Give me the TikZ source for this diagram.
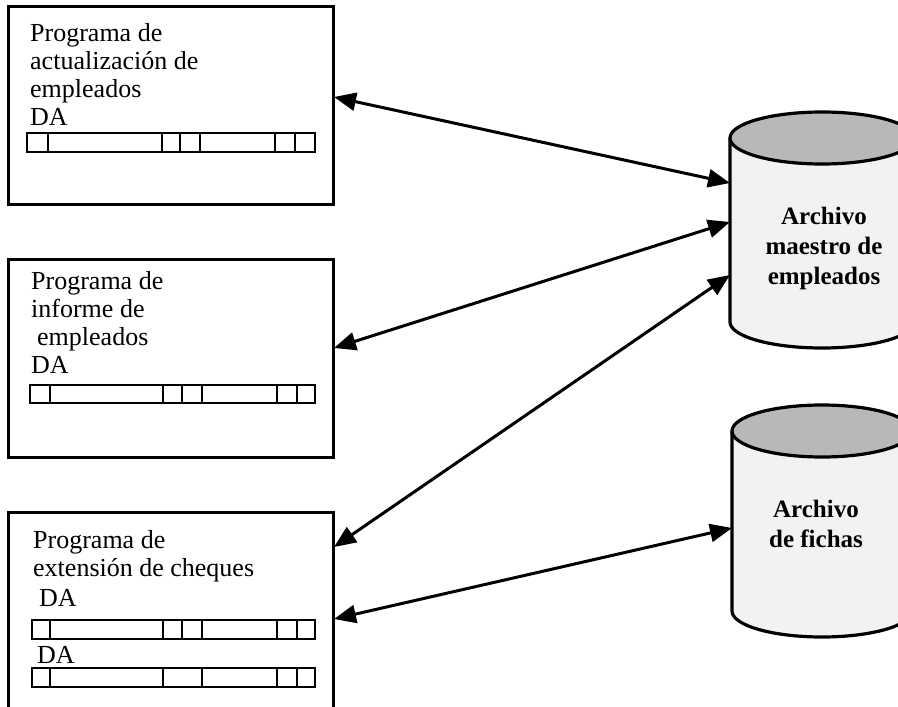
\documentclass[tikz,border=0pt]{standalone}
\usepackage{fontspec}
\setmainfont{Liberation Serif}
\usetikzlibrary{arrows.meta}

\begin{document}
\begin{tikzpicture}[x=1pt,y=-1pt,
     prog/.style={draw,line width=3pt,minimum width=325pt,minimum height=198pt,inner sep=0pt},
     txt/.style={anchor=north west,align=left,inner sep=0pt,font=\fontsize{26}{28}\selectfont},
     bar/.style={line width=2.2pt},
     db/.style={line width=3.2pt},
     dbtext/.style={align=center,inner sep=0pt,font=\bfseries\fontsize{25}{30}\selectfont},
     link/.style={line width=3pt,{Triangle[length=22pt,width=18pt]}-{Triangle[length=22pt,width=18pt]}}
   ]
   \path[use as bounding box] (0,0) rectangle (898,707);
   \clip (0,0) rectangle (898,707);
   % Programs.
   \node[prog] (act) at (170.5,105) {};
   \node[txt] (actTxt) at (30,23) {Programa de\\actualización de\\empleados\\DA};
   \draw[bar] (27,133) rectangle (315,152);
   \foreach \x in {48,162,180,200,275,295} \draw[bar] (\x,133) -- (\x,152);
   \node[prog] (inf) at (170.5,358) {};
   \node[txt] (infTxt) at (31,271) {Programa de\\informe de\\\hspace{6pt}empleados\\DA};
   \draw[bar] (30,385) rectangle (315,403);
   \foreach \x in {50,163,182,202,277,297} \draw[bar] (\x,385) -- (\x,403);
   \node[prog,minimum height=208pt] (che) at (170.5,616) {};
   \node[txt] (cheTxt) at (33,530) {Programa de\\extensión de cheques\\[2pt]\hspace{6pt}DA};
   \draw[bar] (32,620) rectangle (315,639);
   \foreach \x in {50,163,182,202,277,297} \draw[bar] (\x,620) -- (\x,639);
   \node[txt,anchor=base west] (cheDA) at (37,663) {DA};
   \draw[bar] (32,668) rectangle (315,687);
   \foreach \x in {50,163,202,277,297} \draw[bar] (\x,668) -- (\x,687);
   % Files.
   \fill[black!5] (730,138) rectangle (914,322);
   \fill[black!5] (822,322) ellipse [x radius=92,y radius=26];
   \draw[db] (730,138) -- (730,322) arc [start angle=180,end angle=0,x radius=92,y radius=26] -- (914,138);
   \draw[db,fill=black!28] (822,138) ellipse [x radius=92,y radius=26];
   \node[dbtext] (maestro) at (824,248) {Archivo\\maestro de\\empleados};
   \fill[black!5] (732,431) rectangle (912,611);
   \fill[black!5] (822,611) ellipse [x radius=90,y radius=26];
   \draw[db] (732,431) -- (732,611) arc [start angle=180,end angle=0,x radius=90,y radius=26] -- (912,431);
   \draw[db,fill=black!28] (822,431) ellipse [x radius=90,y radius=26];
   \node[dbtext] (fichas) at (816,524) {Archivo\\de fichas};
   % Links.
   \coordinate (act-m) at (334,97);
   \coordinate (inf-m) at (334,348);
   \coordinate (che-m) at (334,547);
   \coordinate (che-f) at (334,619);
   \coordinate (m-act) at (730,183);
   \coordinate (m-inf) at (730,222);
   \coordinate (m-che) at (730,275);
   \coordinate (f-che) at (732,528);
   \draw[link] (act-m) -- (m-act);
   \draw[link] (inf-m) -- (m-inf);
   \draw[link] (che-m) -- (m-che);
   \draw[link] (che-f) -- (f-che);
\end{tikzpicture}
\end{document}
